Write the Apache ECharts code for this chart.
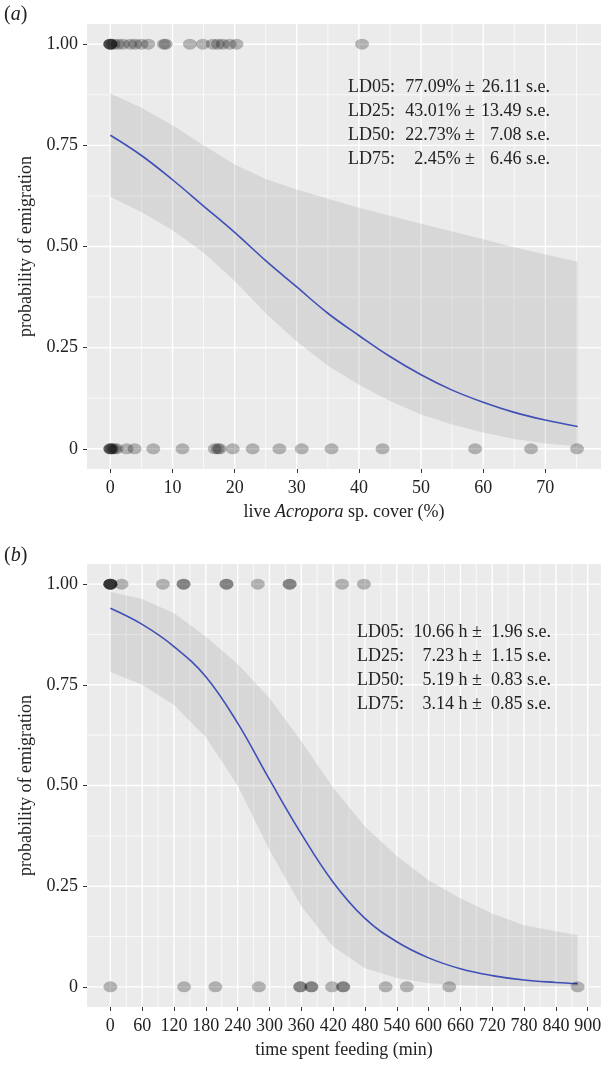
<!DOCTYPE html>
<html>
<head>
<meta charset="utf-8">
<script src="https://cdn.jsdelivr.net/npm/echarts@6/dist/echarts.min.js"></script>
<style>
  html, body { margin: 0; padding: 0; background: #fff; }
  #chart { width: 605px; height: 1073px; }
</style>
</head>
<body>
<div id="chart"></div>
<script>
// ---- data ----
const probTicks = [0, 0.25, 0.5, 0.75, 1];
const probMinor = [0.125, 0.375, 0.625, 0.875];
const coverTicks = [0, 10, 20, 30, 40, 50, 60, 70];
const coverMinor = [5, 15, 25, 35, 45, 55, 65, 75];
const feedTicks = [0, 60, 120, 180, 240, 300, 360, 420, 480, 540, 600, 660, 720, 780, 840, 900];
const feedMinor = [30, 90, 150, 210, 270, 330, 390, 450, 510, 570, 630, 690, 750, 810, 870];

// (a) live Acropora cover: fish that emigrated (1) and stayed (0)
const coverYes = [0, 0, 0, 0, 0.5, 1.2, 2.0, 3.2, 4.0, 5.0, 6.1, 8.6, 8.9, 12.8, 14.9, 16.5, 17.3, 18.1, 19.2, 20.3, 40.5];
const coverNo = [0, 0, 0, 0.3, 0.6, 1.0, 2.6, 3.9, 6.9, 11.6, 16.8, 17.3, 17.6, 19.7, 22.9, 27.2, 30.8, 35.6, 43.8, 58.7, 67.7, 75.1];
const coverX = [0, 5, 10, 15, 20, 25, 30, 35, 40, 45, 50, 55, 60, 65, 70, 75.2];
const coverFit = [0.775, 0.725, 0.665, 0.60, 0.535, 0.465, 0.40, 0.335, 0.28, 0.228, 0.183, 0.145, 0.115, 0.09, 0.071, 0.055];
const coverUpper = [0.878, 0.843, 0.80, 0.75, 0.703, 0.667, 0.641, 0.618, 0.596, 0.576, 0.556, 0.537, 0.518, 0.498, 0.48, 0.462];
const coverLower = [0.623, 0.585, 0.54, 0.485, 0.415, 0.335, 0.265, 0.205, 0.158, 0.118, 0.085, 0.06, 0.04, 0.024, 0.013, 0.006];

// (b) time spent feeding (min)
const feedYes = [0, 0, 0, 0, 0, 21, 99, 138, 138, 219, 219, 278, 338, 338, 437, 478];
const feedNo = [0, 139, 198, 280, 358, 358, 379, 379, 418, 439, 439, 519, 559, 639, 881];
const feedX = [0, 60, 120, 180, 240, 300, 360, 420, 480, 540, 600, 660, 720, 780, 840, 881];
const feedFit = [0.94, 0.90, 0.845, 0.77, 0.655, 0.515, 0.38, 0.26, 0.17, 0.112, 0.072, 0.045, 0.028, 0.017, 0.011, 0.008];
const feedUpper = [0.981, 0.963, 0.928, 0.87, 0.802, 0.717, 0.61, 0.495, 0.398, 0.325, 0.265, 0.22, 0.182, 0.153, 0.138, 0.128];
const feedLower = [0.782, 0.75, 0.70, 0.62, 0.50, 0.34, 0.20, 0.10, 0.046, 0.022, 0.009, 0.004, 0.002, 0.001, 0.001, 0.001];

// lethal-dose annotations
const ldLabels = ['LD05:', 'LD25:', 'LD50:', 'LD75:'];
const coverLD = ['77.09%', '43.01%', '22.73%', '2.45%'];
const coverSE = ['26.11', '13.49', '7.08', '6.46'];
const feedLD = ['10.66 h', '7.23 h', '5.19 h', '3.14 h'];
const feedSE = ['1.96', '1.15', '0.83', '0.85'];

const FONT = '"Liberation Serif", "DejaVu Serif", serif';
const chart = echarts.init(document.getElementById('chart'));

function gridLines(xMajor, xMinor, yMajor, yMinor) {
  const d = [];
  xMinor.forEach(v => d.push([v, 0.5, 0, 0]));
  yMinor.forEach(v => d.push([xMajor[1], v, 0, 1]));
  xMajor.forEach(v => d.push([v, 0.5, 1, 0]));
  yMajor.forEach(v => d.push([xMajor[1], v, 1, 1]));
  return d;
}

function gridSeries(idx, data) {
  return {
    type: 'custom', xAxisIndex: idx, yAxisIndex: idx, z: 1, silent: true,
    data: data,
    renderItem: function (params, api) {
      const cs = params.coordSys;
      const major = api.value(2), horiz = api.value(3);
      const w = major ? 1.4 : 0.7;
      let shape;
      if (horiz) {
        const y = api.coord([api.value(0), api.value(1)])[1];
        shape = { x1: cs.x, y1: y, x2: cs.x + cs.width, y2: y };
      } else {
        const x = api.coord([api.value(0), api.value(1)])[0];
        shape = { x1: x, y1: cs.y, x2: x, y2: cs.y + cs.height };
      }
      return { type: 'line', shape: shape, style: { stroke: '#ffffff', lineWidth: w } };
    }
  };
}

function bandSeries(idx, xs, up, lo) {
  return {
    type: 'custom', xAxisIndex: idx, yAxisIndex: idx, z: 2, silent: true,
    data: [[xs[0], up[0]]],
    renderItem: function (params, api) {
      const pts = [];
      for (let i = 0; i < xs.length; i++) pts.push(api.coord([xs[i], up[i]]));
      for (let i = xs.length - 1; i >= 0; i--) pts.push(api.coord([xs[i], lo[i]]));
      return { type: 'polygon', shape: { points: pts }, style: { fill: 'rgba(150,150,150,0.23)' } };
    }
  };
}

function fitSeries(idx, xs, ys) {
  return {
    type: 'line', xAxisIndex: idx, yAxisIndex: idx, z: 3, silent: true,
    data: xs.map((x, i) => [x, ys[i]]),
    showSymbol: false, smooth: 0.4,
    lineStyle: { color: '#3F4FB5', width: 1.6 }
  };
}

function pointSeries(idx, xs, y) {
  return {
    type: 'scatter', xAxisIndex: idx, yAxisIndex: idx, z: 4, silent: true,
    data: xs.map(x => [x, y]),
    symbol: 'circle', symbolSize: [14, 11],
    itemStyle: { color: 'rgba(0,0,0,0.32)' }
  };
}

function yAxis(idx) {
  return {
    type: 'value', gridIndex: idx, min: -0.05, max: 1.05,
    axisLine: { show: false, onZero: false },
    axisTick: { show: true, customValues: probTicks, length: 4, lineStyle: { color: '#333', width: 1 } },
    axisLabel: {
      customValues: probTicks, margin: 9, fontSize: 18, fontFamily: FONT, color: '#222',
      formatter: v => (v === 0 ? '0' : v.toFixed(2))
    },
    splitLine: { show: false },
    name: 'probability of emigration', nameLocation: 'middle', nameRotate: 90, nameGap: 52,
    nameTextStyle: { fontSize: 18, fontFamily: FONT, color: '#222' }
  };
}

function xAxis(idx, min, max, ticks, name) {
  return {
    type: 'value', gridIndex: idx, min: min, max: max,
    axisLine: { show: false, onZero: false },
    axisTick: { show: true, customValues: ticks, length: 4, lineStyle: { color: '#333', width: 1 } },
    axisLabel: { customValues: ticks, margin: 10, fontSize: 18, fontFamily: FONT, color: '#222' },
    splitLine: { show: false },
    name: name, nameLocation: 'middle', nameGap: 34,
    nameTextStyle: {
      fontSize: 18, fontFamily: FONT, color: '#222',
      rich: {
        n: { fontSize: 18, fontFamily: FONT, color: '#222' },
        i: { fontSize: 18, fontFamily: FONT, color: '#222', fontStyle: 'italic' }
      }
    }
  };
}

function annotation(x0, xVal, xSe, yTop, vals, ses) {
  const out = [];
  const font = '18px ' + FONT;
  ldLabels.forEach((lab, i) => {
    const y = yTop + i * 24;
    out.push({ type: 'text', z: 100, x: x0, y: y, silent: true, style: { text: lab, font: font, fill: '#222', align: 'left', verticalAlign: 'middle' } });
    out.push({ type: 'text', z: 100, x: xVal, y: y, silent: true, style: { text: vals[i] + ' \u00b1', font: font, fill: '#222', align: 'right', verticalAlign: 'middle' } });
    out.push({ type: 'text', z: 100, x: xSe, y: y, silent: true, style: { text: ses[i] + ' s.e.', font: font, fill: '#222', align: 'right', verticalAlign: 'middle' } });
  });
  return out;
}

function panelTag(letter, y) {
  return {
    type: 'text', z: 100, x: 4, y: y, silent: true,
    style: {
      text: '{n|(}{i|' + letter + '}{n|)}', verticalAlign: 'middle',
      rich: {
        n: { font: '20px ' + FONT, fill: '#222' },
        i: { font: 'italic 20px ' + FONT, fill: '#222' }
      }
    }
  };
}

chart.setOption({
  animation: false,
  grid: [
    { left: 87, top: 24, width: 514, height: 445, show: true, backgroundColor: '#EBEBEB', borderWidth: 0 },
    { left: 87, top: 564, width: 514, height: 443, show: true, backgroundColor: '#EBEBEB', borderWidth: 0 }
  ],
  xAxis: [
    xAxis(0, -3.76, 78.96, coverTicks, '{n|live }{i|Acropora}{n| sp. cover (%)}'),
    xAxis(1, -44.05, 925.05, feedTicks, 'time spent feeding (min)')
  ],
  yAxis: [yAxis(0), yAxis(1)],
  series: [
    gridSeries(0, gridLines(coverTicks, coverMinor, probTicks, probMinor)),
    gridSeries(1, gridLines(feedTicks, feedMinor, probTicks, probMinor)),
    bandSeries(0, coverX, coverUpper, coverLower),
    bandSeries(1, feedX, feedUpper, feedLower),
    fitSeries(0, coverX, coverFit),
    fitSeries(1, feedX, feedFit),
    pointSeries(0, coverYes, 1),
    pointSeries(0, coverNo, 0),
    pointSeries(1, feedYes, 1),
    pointSeries(1, feedNo, 0)
  ],
  graphic: {
    elements: [
      panelTag('a', 15),
      panelTag('b', 556)
    ].concat(annotation(348, 475, 550, 87, coverLD, coverSE))
     .concat(annotation(357, 482, 551, 632, feedLD, feedSE))
  }
});
</script>
</body>
</html>
